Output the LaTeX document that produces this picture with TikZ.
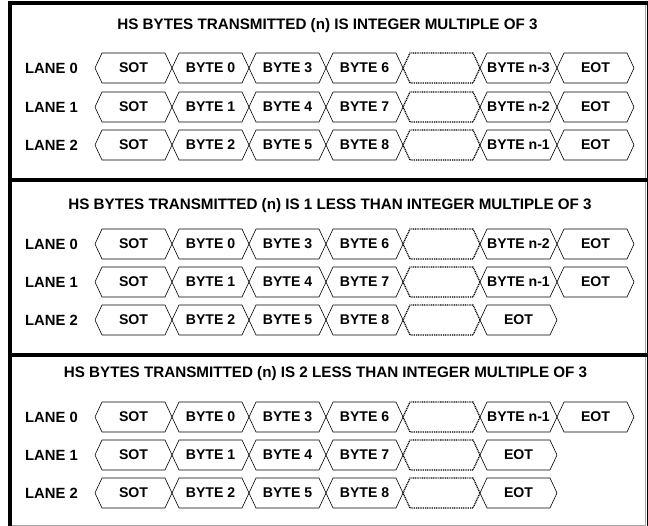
\documentclass[tikz,border=0pt]{standalone}
\usepackage{fontspec}
\setmainfont{Liberation Sans}
\usepackage{tikz}
\usetikzlibrary{positioning, shapes.symbols}

% one lane: name, y, lane number, cells after the gap
\newcommand{\lanerow}[4]{%
  \node[lanelabel] (#1lbl) at (25,#2) {LANE #3};
  \node[cell] (#1c0) at (133.5,#2) {SOT};
  \node[cell, right=0pt of #1c0] (#1c1) {BYTE \the\numexpr#3\relax};
  \node[cell, right=0pt of #1c1] (#1c2) {BYTE \the\numexpr#3+3\relax};
  \node[cell, right=0pt of #1c2] (#1c3) {BYTE \the\numexpr#3+6\relax};
  \node[gapcell, right=0pt of #1c3] (#1c4) {};
  \foreach \txt [count=\k from 5] in {#4} {
    \pgfmathtruncatemacro{\prev}{\k-1}
    \node[cell, right=0pt of #1c\prev] (#1c\k) {\txt};
  }
}

\begin{document}
\begin{tikzpicture}[x=1pt, y=-1pt,
    cell/.style={draw=black, line width=0.6pt, signal, signal to=east and west, signal pointer angle=130,
      minimum width=77pt, minimum height=30pt, inner sep=0pt, outer sep=0pt, font=\fontsize{14.1}{15}\selectfont\bfseries},
    gapcell/.style={cell, line width=1.3pt, dash pattern=on 1pt off 0.8pt},
    lanelabel/.style={anchor=west, inner sep=0pt, font=\fontsize{14.8}{16}\selectfont\bfseries},
    paneltitle/.style={anchor=base, inner sep=0pt, font=\fontsize{15.2}{17}\selectfont\bfseries}]
    \useasboundingbox (0,0) rectangle (648,526);

    % panel frames
    \draw[black!35, line width=0.6pt] (10,3.5) rectangle (645,525);
    \draw[line width=4pt] (10,526) -- (10,3.5) -- (650,3.5);
    \draw[line width=4pt] (648.5,1.5) -- (648.5,526);
    \draw[line width=4pt] (10,180.5) -- (650,180.5);
    \draw[line width=4pt] (10,355) -- (650,355);

    % panel 1
    \node[paneltitle] (title1) at (327.5,30) {HS BYTES TRANSMITTED (n) IS INTEGER MULTIPLE OF 3};
    \lanerow{pa0}{68}{0}{BYTE n-3, EOT}
    \lanerow{pa1}{107}{1}{BYTE n-2, EOT}
    \lanerow{pa2}{145}{2}{BYTE n-1, EOT}

    % panel 2
    \node[paneltitle] (title2) at (330,210) {HS BYTES TRANSMITTED (n) IS 1 LESS THAN INTEGER MULTIPLE OF 3};
    \lanerow{pb0}{244}{0}{BYTE n-2, EOT}
    \lanerow{pb1}{282}{1}{BYTE n-1, EOT}
    \lanerow{pb2}{320}{2}{EOT}

    % panel 3
    \node[paneltitle] (title3) at (325.5,378) {HS BYTES TRANSMITTED (n) IS 2 LESS THAN INTEGER MULTIPLE OF 3};
    \lanerow{pc0}{417}{0}{BYTE n-1, EOT}
    \lanerow{pc1}{455}{1}{EOT}
    \lanerow{pc2}{493}{2}{EOT}
\end{tikzpicture}
\end{document}
